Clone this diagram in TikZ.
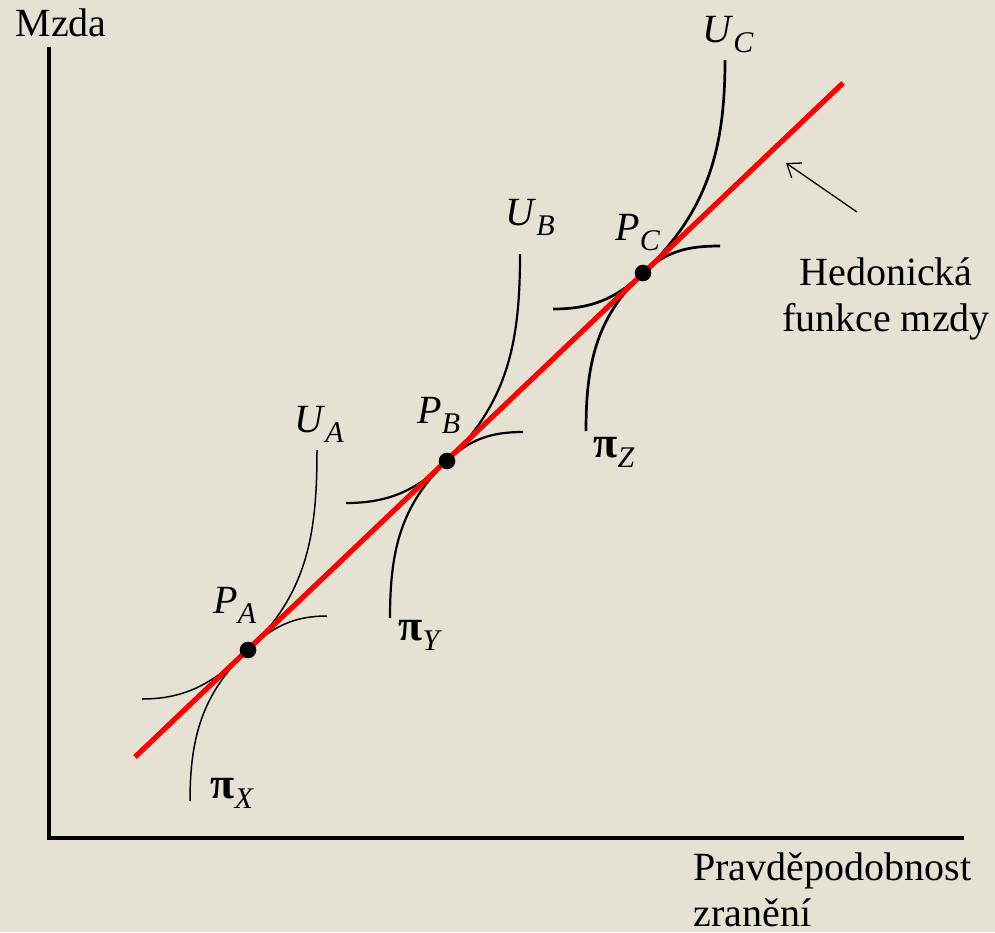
\documentclass[tikz,border=0pt]{standalone}
\usepackage{fontspec}
\setmainfont{Liberation Serif}
\usetikzlibrary{arrows.meta}
\definecolor{cBg}{RGB}{229,226,212}
\definecolor{cHed}{RGB}{255,0,0}
\newcommand{\lab}[2]{\textit{#1}\raisebox{-5pt}{\fontsize{15}{15}\selectfont\textit{#2}}}
\newcommand{\lpi}[1]{{\fontsize{22}{22}\selectfont\bfseries π}\raisebox{-5pt}{\fontsize{15}{15}\selectfont\textit{#1}}}

\begin{document}
\begin{tikzpicture}[x=0.5pt, y=-0.5pt, font=\fontsize{20}{23}\selectfont,
                    axis/.style={line width=2pt},
                    hedonic/.style={draw=cHed, line width=2.6pt},
                    dot/.style={circle, fill=black, inner sep=0pt, minimum size=8.3pt},
                    curveA/.style={line width=0.75pt},
                    curveB/.style={line width=1.1pt},
                    curveC/.style={line width=1.35pt},
                    pointer/.style={line width=0.65pt, -{Straight Barb[length=6pt, width=9pt]}},
                    lbl/.style={inner sep=0pt, anchor=base west}]

    % Background
    \fill[cBg] (0,0) rectangle (995,932);
    \useasboundingbox (0,0) rectangle (995,932);

    % Axes
    \coordinate (O) at (49,838);
    \coordinate (yEnd) at (49,47);
    \coordinate (xEnd) at (964,838);
    \draw[axis] (yEnd) -- (49,840);
    \draw[axis] (47,838) -- (xEnd);

    % Tangency points
    \coordinate (PA) at (248,650);
    \coordinate (PB) at (447,461);
    \coordinate (PC) at (643,273);

    % Indifference curves (U) and isoprofit curves (pi)
    \coordinate (uAtop) at (317,450);  \coordinate (uAleft) at (142,699);
    \coordinate (pXbot) at (190,801);  \coordinate (pXright) at (327,616);
    \coordinate (uBtop) at (520,254);  \coordinate (uBleft) at (346,503);
    \coordinate (pYbot) at (390,618);  \coordinate (pYright) at (523,432);
    \coordinate (uCtop) at (725,60);   \coordinate (uCleft) at (553,309);
    \coordinate (pZbot) at (586,431);  \coordinate (pZright) at (720,246);

    \draw[curveA] (uAtop) to[out=-90, in=43.6] (PA) to[out=223.6, in=0] (uAleft);
    \draw[curveA] (pXbot) to[out=90, in=223.6] (PA) to[out=43.6, in=180] (pXright);
    \draw[curveB] (uBtop) to[out=-90, in=43.6] (PB) to[out=223.6, in=0] (uBleft);
    \draw[curveB] (pYbot) to[out=90, in=223.6] (PB) to[out=43.6, in=180] (pYright);
    \draw[curveC] (uCtop) to[out=-90, in=43.6] (PC) to[out=223.6, in=0] (uCleft);
    \draw[curveC] (pZbot) to[out=90, in=223.6] (PC) to[out=43.6, in=180] (pZright);

    % Hedonic wage function
    \coordinate (hStart) at (135,757);
    \coordinate (hEnd) at (843,83);
    \draw[hedonic] (hStart) -- (hEnd);

    % Points
    \node[dot] (dA) at (PA) {};
    \node[dot] (dB) at (PB) {};
    \node[dot] (dC) at (PC) {};

    % Labels
    \node[lbl] (lUA) at (294,432) {\lab{U}{A}};
    \node[lbl] (lUB) at (505,225) {\lab{U}{B}};
    \node[lbl] (lUC) at (702,42)  {\lab{U}{C}};
    \node[lbl] (lPA) at (213,613) {\lab{P}{A}};
    \node[lbl] (lPB) at (417,423) {\lab{P}{B}};
    \node[lbl] (lPC) at (615,240) {\lab{P}{C}};
    \node[lbl] (lpX) at (210,798) {\lpi{X}};
    \node[lbl] (lpY) at (398,640) {\lpi{Y}};
    \node[lbl] (lpZ) at (593,457) {\lpi{Z}};

    % Axis titles
    \node[inner sep=0pt, anchor=base] (yTitle) at (61,36) {Mzda};
    \node[inner sep=0pt, anchor=base west, align=left] (xTitle) at (693,926) {Pravděpodobnost\\zranění};

    % Pointer to the hedonic function
    \node[inner sep=0pt, anchor=base, align=center] (hTitle) at (886,331) {Hedonická\\funkce mzdy};
    \coordinate (arrTail) at (857,212);
    \coordinate (arrTip) at (786,163);
    \draw[pointer] (arrTail) -- (arrTip);

\end{tikzpicture}
\end{document}
